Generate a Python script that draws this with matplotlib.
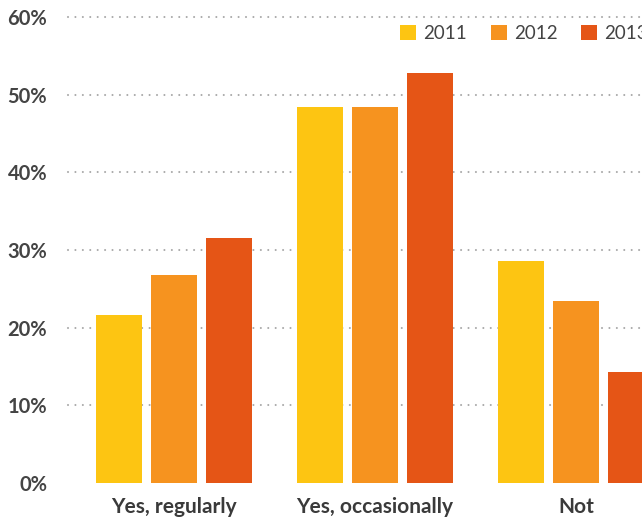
import matplotlib
matplotlib.use("Agg")
import matplotlib.pyplot as plt
from matplotlib.patches import Patch
import numpy as np

categories = ["Yes, regularly", "Yes, occasionally", "Not"]
years = ["2011", "2012", "2013"]
values = {
    "2011": [21.6, 48.4, 28.6],
    "2012": [26.8, 48.4, 23.4],
    "2013": [31.5, 52.8, 14.3],
}
yticks = [0, 10, 20, 30, 40, 50, 60]
ytick_labels = ["0%", "10%", "20%", "30%", "40%", "50%", "60%"]
colors = ["#FDC512", "#F6931F", "#E55516"]

plt.rcParams["font.family"] = ["Lato", "DejaVu Sans"]

W, H = 642, 520
fig = plt.figure(figsize=(W / 100, H / 100), dpi=100)
ax = fig.add_axes([68 / W, 37 / H, (W - 68) / W, 466 / H])

x = np.arange(len(categories))
step = 55 / 201
width = 46 / 201
for i, yr in enumerate(years):
    ax.bar(x + (i - 1) * step, values[yr], width=width, color=colors[i], zorder=3)

ax.set_xlim(-0.527, 2.328)
ax.set_ylim(0, 60)
ax.set_yticks(yticks)
ax.set_yticklabels(ytick_labels, fontsize=14.5, fontweight="bold", color="#444444")
ax.set_xticks(x)
ax.set_xticklabels(categories, fontsize=15, fontweight="bold", color="#3a3a3a")
ax.tick_params(axis="y", length=0, pad=15)
ax.tick_params(axis="x", length=0, pad=10)
for lab in ax.get_yticklabels():
    lab.set_horizontalalignment("right")

for yv in yticks[1:]:
    ax.axhline(yv, color="#A8A8A8", linewidth=1.5, linestyle=(0, (0.01, 3.55)),
               dash_capstyle="round", zorder=1, clip_on=False)

for s in ax.spines.values():
    s.set_visible(False)

handles = [Patch(facecolor=c, edgecolor="none") for c in colors]
leg = fig.legend(handles, years, loc="upper left", bbox_to_anchor=(400 / W, 1 - 25 / H),
                 ncol=3, frameon=False, fontsize=13.5, handlelength=0.85, handleheight=0.85,
                 handletextpad=0.4, columnspacing=1.25, borderpad=0, borderaxespad=0)
for t in leg.get_texts():
    t.set_color("#444444")

fig.savefig("out.png", dpi=100)
